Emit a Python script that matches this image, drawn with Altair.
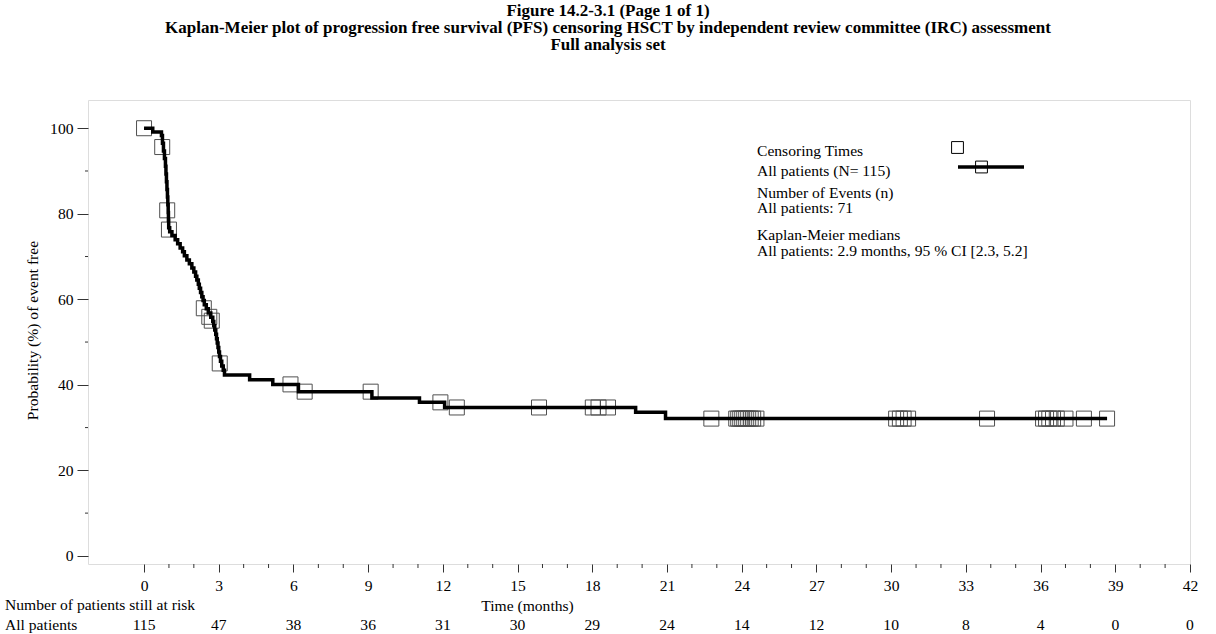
import altair as alt
import pandas as pd

# ---- Kaplan-Meier step curve (time in months, survival in %) ----
km_time = [0, 0.35, 0.70, 0.74, 0.78, 0.82, 0.86, 0.88, 0.90, 0.92, 0.94, 0.955, 0.97, 0.98, 0.99,
           1.03, 1.12, 1.25, 1.35, 1.45, 1.55, 1.62, 1.72, 1.82, 1.92, 2.00, 2.07, 2.12, 2.18, 2.22,
           2.27, 2.32, 2.37, 2.42, 2.50, 2.58, 2.68, 2.76, 2.80, 2.84, 2.88, 2.91, 2.94, 2.97, 3.00,
           3.03, 3.07, 3.12, 3.18, 3.23, 4.24, 5.17, 6.20, 9.15, 11.06, 12.07, 19.74, 20.94, 38.67]
km_surv = [100, 99.1, 98.3, 96.5, 94.7, 92.9, 91.1, 89.3, 87.5, 85.7, 83.9, 82.1, 80.3, 78.5, 76.7,
           75.8, 74.9, 73.9, 73.0, 72.0, 71.1, 70.2, 69.2, 68.3, 67.3, 66.4, 65.4, 64.5, 63.5, 62.6,
           61.6, 60.6, 59.7, 58.7, 57.8, 56.8, 55.8, 54.8, 53.8, 52.8, 51.8, 50.8, 49.8, 48.7, 47.7,
           46.6, 45.5, 44.4, 43.4, 42.3, 41.2, 40.1, 38.4, 36.9, 35.9, 34.7, 33.6, 32.1, 32.1]

# ---- Censoring times ----
cens_time = [0.0, 0.73, 0.93, 1.0, 2.4, 2.62, 2.72, 3.04, 5.88, 6.45, 9.1, 11.9, 12.56, 15.86,
             18.02, 18.25, 18.63, 22.78, 23.78, 23.86, 23.94, 24.02, 24.1, 24.18, 24.26, 24.36,
             24.46, 24.59, 30.2, 30.35, 30.5, 30.68, 33.85, 36.1, 36.22, 36.35, 36.5, 36.65, 37.0,
             37.74, 38.67]
cens_surv = [100, 95.6, 80.8, 76.3, 57.9, 55.9, 55.0, 45.0, 40.1, 38.4, 38.4, 35.9, 34.7, 34.7,
             34.7, 34.7, 34.7, 32.1, 32.1, 32.1, 32.1, 32.1, 32.1, 32.1, 32.1, 32.1,
             32.1, 32.1, 32.1, 32.1, 32.1, 32.1, 32.1, 32.1, 32.1, 32.1, 32.1, 32.1, 32.1,
             32.1, 32.1]

# ---- Number at risk ----
risk_time = [0, 3, 6, 9, 12, 15, 18, 21, 24, 27, 30, 33, 36, 39, 42]
risk_n = [115, 47, 38, 36, 31, 30, 29, 24, 14, 12, 10, 8, 4, 0, 0]

# ---- Minor tick positions ----
x_minor = [1, 2, 4, 5, 7, 8, 10, 11, 13, 14, 16, 17, 19, 20, 22, 23, 25, 26, 28, 29,
           31, 32, 34, 35, 37, 38, 40, 41]
y_major = [0, 20, 40, 60, 80, 100]
y_minor = [10, 30, 50, 70, 90]

# ---- Legend texts ----
legend_text = ["Censoring Times", "All patients (N= 115)", "Number of Events (n)",
               "All patients: 71", "Kaplan-Meier medians",
               "All patients: 2.9 months, 95 % CI [2.3, 5.2]"]
legend_y = [51, 71, 93, 108, 135, 151]

title_lines = ["Figure 14.2-3.1 (Page 1 of 1)",
               "Kaplan-Meier plot of progression free survival (PFS) censoring HSCT by independent review committee (IRC) assessment",
               "Full analysis set"]

FONT = "Liberation Serif"
FS = 15.6
W, H = 1102, 464

km_df = pd.DataFrame({"t": km_time, "s": km_surv})
cens_df = pd.DataFrame({"t": cens_time, "s": cens_surv})
risk_df = pd.DataFrame({"t": risk_time, "n": [str(v) for v in risk_n]})
xminor_df = pd.DataFrame({"t": x_minor})
yminor_df = pd.DataFrame({"s": y_minor})
leg_df = pd.DataFrame({"label": legend_text, "py": legend_y})

xs = alt.Scale(domain=[-2.25, 42], nice=False, zero=False)
ys = alt.Scale(domain=[-1.9, 106.6], nice=False, zero=False)

x_axis = alt.Axis(values=risk_time, tickSize=8, labelPadding=6, domain=False, grid=False,
                  labelFont=FONT, labelFontSize=FS, labelColor="black", tickColor="#333333",
                  labelFlush=False, labelOverlap=False, labelBound=False,
                  title="Time (months)", titleFont=FONT, titleFontSize=FS, titleFontWeight="normal",
                  titleColor="black", titleX=439, titleY=41, titleAlign="center",
                  titleBaseline="middle")
y_axis = alt.Axis(values=y_major, tickSize=11, labelPadding=4, domain=False, grid=False,
                  labelFont=FONT, labelFontSize=FS, labelColor="black", tickColor="#333333",
                  labelFlush=False, labelOverlap=False,
                  title="Probability (%) of event free", titleFont=FONT, titleFontSize=FS,
                  titleFontWeight="normal", titleColor="black", titleX=-56, titleY=230,
                  titleAngle=270, titleAlign="center", titleBaseline="middle")

censors = alt.Chart(cens_df).mark_point(shape="square", filled=False, size=225,
                                        stroke="#505050", strokeWidth=1, opacity=1).encode(
    x=alt.X("t:Q", scale=xs, axis=x_axis),
    y=alt.Y("s:Q", scale=ys, axis=y_axis),
)

curve = alt.Chart(km_df).mark_line(interpolate="step-after", color="black", strokeWidth=3.5).encode(
    x=alt.X("t:Q", scale=xs),
    y=alt.Y("s:Q", scale=ys),
)

x_minor_ticks = alt.Chart(xminor_df).mark_rule(color="#333333", strokeWidth=1).encode(
    x=alt.X("t:Q", scale=xs), y=alt.value(H), y2=alt.value(H + 4))
y_minor_ticks = alt.Chart(yminor_df).mark_rule(color="#333333", strokeWidth=1).encode(
    y=alt.Y("s:Q", scale=ys), x=alt.value(-3), x2=alt.value(0))

risk_numbers = alt.Chart(risk_df).mark_text(font=FONT, fontSize=FS, color="black",
                                            align="center", baseline="middle").encode(
    x=alt.X("t:Q", scale=xs), y=alt.value(H + 61), text="n:N")

risk_header = alt.Chart(pd.DataFrame({"label": ["Number of patients still at risk", "All patients"],
                                      "py": [H + 41, H + 61]})).mark_text(
    font=FONT, fontSize=FS, color="black", align="left", baseline="middle").encode(
    x=alt.value(-83), y=alt.Y("py:Q", scale=None), text="label:N")

legend_texts = alt.Chart(leg_df).mark_text(font=FONT, fontSize=FS, color="black", align="left",
                                           baseline="middle").encode(
    x=alt.value(669), y=alt.Y("py:Q", scale=None), text="label:N")

legend_line = alt.Chart(pd.DataFrame({"a": [0]})).mark_rule(color="black", strokeWidth=3.5).encode(
    x=alt.value(870), x2=alt.value(936), y=alt.value(67))
legend_sq = alt.Chart(pd.DataFrame({"px": [869.5, 893.5], "py": [47.5, 67]})).mark_point(
    shape="square", filled=False, size=140, stroke="black", strokeWidth=1, opacity=1).encode(
    x=alt.X("px:Q", scale=None), y=alt.Y("py:Q", scale=None))

chart = alt.layer(
    censors, curve, x_minor_ticks, y_minor_ticks, risk_numbers, risk_header,
    legend_texts, legend_line, legend_sq
).properties(
    width=W, height=H,
    padding={"left": 88, "top": 100, "right": 26, "bottom": 70},
    autosize=alt.AutoSizeParams(type="none"),
    title=alt.TitleParams(text=title_lines, font=FONT, fontSize=17, fontWeight="bold",
                          color="black", anchor="middle", frame="group", dx=-31, offset=46,
                          lineHeight=17),
).configure_view(stroke="#808080", strokeWidth=2).configure(background="white")

chart.save("out.html", embed_options={"renderer": "svg", "actions": False})
